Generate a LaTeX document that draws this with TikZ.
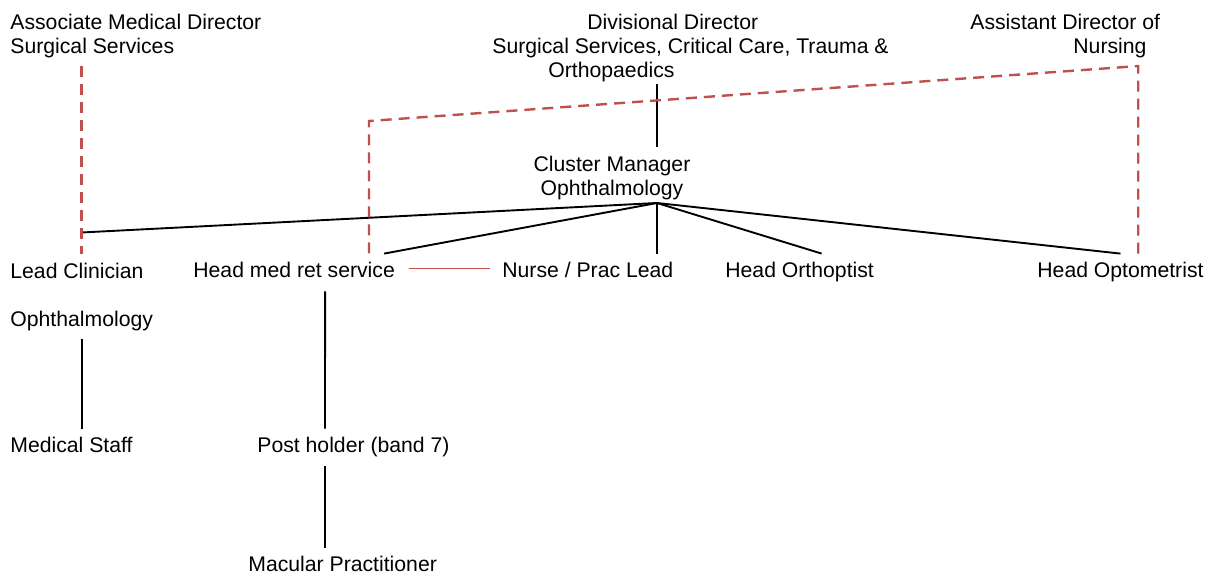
\documentclass[tikz,border=0pt]{standalone}
\usepackage{fontspec}
\setmainfont{Liberation Sans}
\usepackage{xcolor}
\usepackage{tikz}
\definecolor{dashred}{RGB}{192,80,77}

\begin{document}
\begin{tikzpicture}[
    x=0.5pt, y=-0.5pt,
    role/.style={inner xsep=0pt, inner ysep=4pt, text height=8pt, text depth=2.5pt, font=\fontsize{10.6}{12}\selectfont},
    rolelines/.style={inner xsep=0pt, inner ysep=4pt, font=\fontsize{10.6}{12}\selectfont},
    link/.style={draw=black, line width=0.95pt},
    dashlink/.style={draw=dashred, line width=1.2pt, dash pattern=on 5.5pt off 3.5pt},
    redlink/.style={draw=dashred, line width=0.7pt}
]
    \useasboundingbox (0,0) rectangle (1212,576);

    % top row
    \node[rolelines, align=left, anchor=north west] (amd) at (10,5.5) {Associate Medical Director\\Surgical Services};
    \node[rolelines, align=left, anchor=north west] (div) at (492,5.5) {\hspace*{47.5pt}Divisional Director\\Surgical Services, Critical Care, Trauma \&\\\hspace*{28pt}Orthopaedics};
    \node[rolelines, align=left, anchor=north west] (asst) at (970,5.5) {Assistant Director of\\\hspace*{51.5pt}Nursing};

    \node[rolelines, align=center, anchor=north] (cm) at (612,147.5) {Cluster Manager\\Ophthalmology};
    \coordinate (hub) at (657,203);

    % second row
    \node[rolelines, align=left, anchor=north west] (lead) at (10,254.5) {Lead Clinician\\[12pt]Ophthalmology};
    \node[role, anchor=base west] (hmr) at (193,278) {Head med ret service};
    \node[role, anchor=base west] (nurse) at (502,278) {Nurse / Prac Lead};
    \node[role, anchor=base west] (orth) at (725,278) {Head Orthoptist};
    \node[role, anchor=base west] (opto) at (1037,278) {Head Optometrist};

    % lower rows
    \node[role, anchor=base west] (med) at (10,453) {Medical Staff};
    \node[role, anchor=base west] (post) at (257,453) {Post holder (band 7)};
    \node[role, anchor=base west] (mac) at (248,572) {Macular Practitioner};

    % solid reporting lines
    \draw[link] ([yshift=3pt]div.south -| hub) -- (cm.north -| hub);
    \draw[link] (hub) -- ([yshift=11pt]lead.north);
    \draw[link] (hub) -- ([xshift=45pt]hmr.north);
    \draw[link] (hub) -- (hub |- nurse.north);
    \draw[link] (hub) -- ([xshift=11pt]orth.north);
    \draw[link] (hub) -- (opto.north);
    \draw[link] (lead.south) -- (lead.south |- med.north);
    \draw[link] ([xshift=15.5pt]hmr.south) -- ([xshift=-14.25pt]post.north);
    \draw[link] ([xshift=-14.25pt]post.south) -- ([xshift=-14.25pt]post.south |- mac.north);

    % professional lines
    \coordinate (nrs) at ([xshift=36.5pt]asst.south);
    \coordinate (turn) at (369,121);
    \draw[dashlink] (amd.south -| lead.north) -- (lead.north);
    \draw[dashlink] (opto.north -| nrs) -- (nrs) -- (turn) -- (turn |- hmr.north);
    \draw[redlink] ([xshift=7pt,yshift=2pt]hmr.east) -- ([xshift=-6pt,yshift=2pt]nurse.west);
\end{tikzpicture}
\end{document}
